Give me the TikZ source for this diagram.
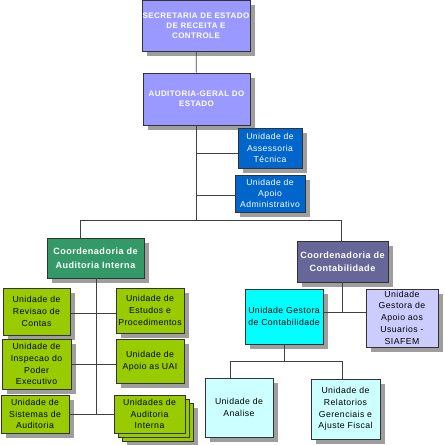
\documentclass[tikz,border=0pt]{standalone}
\usepackage{fontspec}
\setmainfont{Liberation Sans}[LetterSpace=5]
\usetikzlibrary{shadows}
\definecolor{topc}{HTML}{9999FF}
\definecolor{bluec}{HTML}{0066CC}
\definecolor{grnc}{HTML}{339966}
\definecolor{cctc}{HTML}{666699}
\definecolor{cyanc}{HTML}{00FFFF}
\definecolor{siafc}{HTML}{CCCCFF}
\definecolor{limec}{HTML}{99CC00}
\definecolor{lcyanc}{HTML}{CCFFFF}
\definecolor{linec}{HTML}{404040}
\begin{document}
\begin{tikzpicture}[x=1pt,y=-1pt,
  box/.style={draw=black!80, line width=0.6pt, align=center, inner sep=0pt,
    drop shadow={shadow xshift=5pt,shadow yshift=-5pt,fill=black!38,opacity=1}},
  plainbox/.style={draw=black!80, line width=0.6pt, align=center, inner sep=0pt},
  toptxt/.style={text=white, font=\fontsize{8}{10}\selectfont\bfseries},
  unittxt/.style={font=\fontsize{8.7}{11.8}\selectfont},
  bluetxt/.style={text=white, font=\fontsize{8.6}{11.2}\selectfont},
  coordtxt/.style={text=white, font=\fontsize{9.1}{13.5}\selectfont\bfseries},
  conn/.style={draw=linec, line width=0.7pt}]
\fill[white] (0,0) rectangle (445,445);
\useasboundingbox (0,0) rectangle (445,445);

% top
\node[box, toptxt, fill=topc, minimum width=108pt, minimum height=51pt] (sec) at (196,25.5)
  {SECRETARIA DE ESTADO\\DE RECEITA E\\CONTROLE};
\node[box, toptxt, fill=topc, minimum width=107pt, minimum height=52pt] (aud) at (196.5,99)
  {AUDITORIA-GERAL DO\\ESTADO};
\node[box, bluetxt, fill=bluec, minimum width=64pt, minimum height=40pt] (ass) at (270,148)
  {Unidade de\\Assessoria\\Técnica};
\node[box, bluetxt, fill=bluec, minimum width=70pt, minimum height=37pt] (apo) at (270,193.5)
  {Unidade de\\Apoio\\Administrativo};

% coordenadorias
\node[box, coordtxt, fill=grnc, minimum width=97pt, minimum height=40pt] (cai) at (95.5,258)
  {Coordenadoria de\\Auditoria Interna};
\node[box, coordtxt, fill=cctc, minimum width=91pt, minimum height=41pt] (cct) at (342.5,261.5)
  {Coordenadoria de\\Contabilidade};

% contabilidade units
\node[box, unittxt, fill=cyanc, minimum width=78pt, minimum height=55pt] (ugc) at (284,316.5)
  {Unidade Gestora\\de Contabilidade};
\node[box, unittxt, fill=siafc, minimum width=72pt, minimum height=58pt, text depth=1pt] (siaf) at (402,318)
  {Unidade\\Gestora de\\Apoio aos\\Usuarios -\\SIAFEM};
\node[box, unittxt, fill=lcyanc, minimum width=68pt, minimum height=59pt] (ana) at (239,407.5)
  {Unidade de\\Analise};
\node[box, unittxt, fill=lcyanc, minimum width=69pt, minimum height=60pt] (rel) at (345.5,409)
  {Unidade de\\Relatorios\\Gerenciais e\\Ajuste Fiscal};

% auditoria interna units
\node[box, unittxt, fill=limec, minimum width=67pt, minimum height=47pt] (rev) at (36.5,311.5)
  {Unidade de\\Revisao de\\Contas};
\node[box, unittxt, fill=limec, minimum width=68pt, minimum height=45pt] (est) at (150,310.5)
  {Unidade de\\Estudos e\\Procedimentos};
\node[box, unittxt, fill=limec, minimum width=69pt, minimum height=50pt] (ins) at (36.5,364)
  {Unidade de\\Inspecao do\\Poder\\Executivo};
\node[box, unittxt, fill=limec, minimum width=68pt, minimum height=44pt] (uai) at (150,361)
  {Unidade de\\Apoio as UAI};
\node[box, unittxt, fill=limec, minimum width=68pt, minimum height=38pt] (sis) at (35,414)
  {Unidade de\\Sistemas de\\Auditoria};
\node[box, fill=limec, minimum width=71pt, minimum height=38pt] (uda3) at (157.5,422) {};
\node[plainbox, fill=limec, minimum width=71pt, minimum height=38pt] (uda2) at (153.5,418) {};
\node[plainbox, unittxt, fill=limec, minimum width=71pt, minimum height=38pt] (uda) at (149.5,414)
  {Unidades de\\Auditoria\\Interna};

% junction coordinates
\coordinate (jl) at (80,220);
\coordinate (jr) at (341,220);
\coordinate (lv) at (96,414);
\coordinate (cj) at (342,312);
\coordinate (cb) at (284,361);
\coordinate (al) at (230,361);
\coordinate (ar) at (342,361);

% connectors
\draw[conn] (sec) -- (aud);
\draw[conn] (aud.south) -- (aud.south |- jl);
\draw[conn] ([yshift=-5pt]ass.west) -- ([yshift=-5pt]ass.west -| aud.south);
\draw[conn] ([yshift=-2pt]apo.west) -- ([yshift=-2pt]apo.west -| aud.south);
\draw[conn] (jl |- cai.north) -- (jl) -- (jr) -- (jr |- cct.north);
\draw[conn] (cai.south -| lv) -- (lv);
\draw[conn] ([yshift=-1.5pt]rev.east) -- ([yshift=-1.5pt]rev.east -| est.west);
\draw[conn] (ins.east) -- (ins.east -| uai.west);
\draw[conn] (sis.east) -- (sis.east -| uda.west);
\draw[conn] (cct.south -| cj) -- (cj);
\draw[conn] (ugc.east |- cj) -- (siaf.west |- cj);
\draw[conn] (ugc.south) -- (cb);
\draw[conn] (al |- ana.north) -- (al) -- (ar) -- (ar |- rel.north);
\end{tikzpicture}
\end{document}
